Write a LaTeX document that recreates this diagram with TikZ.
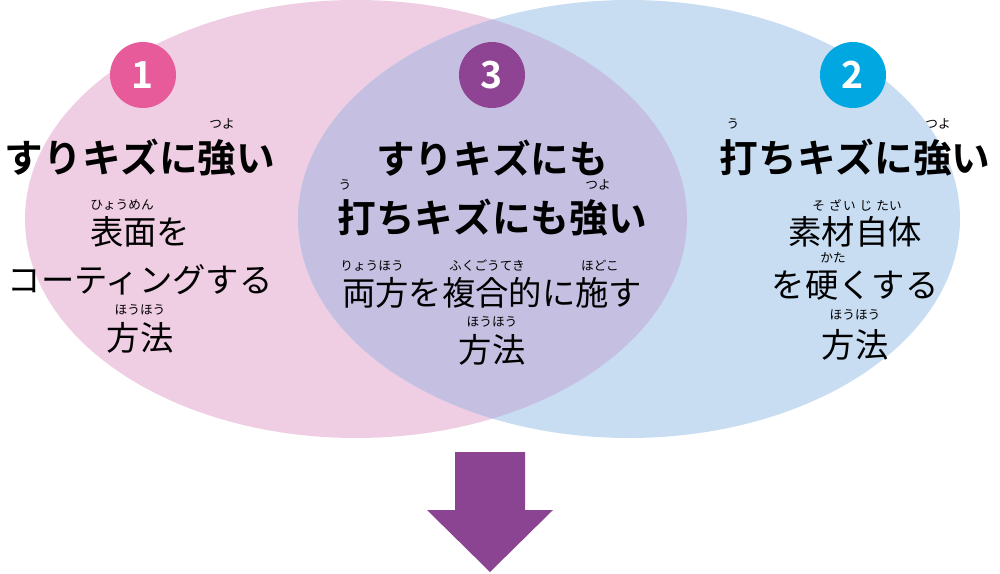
\documentclass[tikz,border=0pt]{standalone}
\usepackage{fontspec}
\newfontfamily\jp{Noto Sans CJK JP}
\newfontfamily\jpb{Noto Sans CJK JP Bold}
\setmainfont{Noto Sans CJK JP}
\definecolor{pinkE}{HTML}{EFCDE3}
\definecolor{blueE}{HTML}{C8DDF2}
\definecolor{mixE}{HTML}{C5C0E2}
\definecolor{pnum}{HTML}{E85B9A}
\definecolor{vnum}{HTML}{8E4493}
\definecolor{cnum}{HTML}{00A7E1}
\definecolor{arr}{HTML}{8B4491}
\begin{document}
\begin{tikzpicture}[x=0.75pt,y=-0.75pt,
 head/.style={font=\jpb\fontsize{29}{30}\selectfont,inner sep=0},
 body/.style={font=\jp\fontsize{25}{26}\selectfont,inner sep=0},
 ruby/.style={font=\jp\fontsize{9.5}{10}\selectfont,inner sep=0},
 num/.style={circle,minimum size=49.5pt,inner sep=0,text=white,font=\jpb\fontsize{28}{28}\selectfont}]
\useasboundingbox (0,0) rectangle (1000,574);
\fill[pinkE] (356,219) ellipse [x radius=331,y radius=219];
\fill[blueE] (629,219) ellipse [x radius=331,y radius=219];
\begin{scope}
\clip (356,219) ellipse [x radius=331,y radius=219];
\fill[mixE] (629,219) ellipse [x radius=331,y radius=219];
\end{scope}
\node[num,fill=pnum] (n1) at (143,75) {1};
\node[num,fill=vnum] (n3) at (492,75) {3};
\node[num,fill=cnum] (n2) at (853,75) {2};
% left
\node[head] (l1) at (140,158) {すりキズに強い};
\node[ruby] at (222,124) {つよ};
\node[body] (l2) at (140,232) {表面を};
\node[ruby] at (122,205) {ひょうめん};
\node[body] (l3) at (140,280) {コーティングする};
\node[ruby] at (140,310) {ほうほう};
\node[body] (l4) at (140,338) {方法};
% middle
\node[head] (m1) at (492,158) {すりキズにも};
\node[head] (m2) at (492,218) {打ちキズにも強い};
\node[ruby] at (345,185) {う};
\node[ruby] at (598,185) {つよ};
\node[body] (m3) at (492,293) {両方を複合的に施す};
\node[ruby] at (372,266) {りょうほう};
\node[ruby] at (487,266) {ふくごうてき};
\node[ruby] at (600,266) {ほどこ};
\node[ruby] at (492,322) {ほうほう};
\node[body] (m4) at (492,350) {方法};
% right
\node[head] (r1) at (855,158) {打ちキズに強い};
\node[ruby] at (733,124) {う};
\node[ruby] at (938,124) {つよ};
\node[body] (r2) at (855,232) {素材自体};
\node[ruby] at (857,205) {そ\hspace{3pt}ざ\hspace{1pt}い\hspace{3pt}じ\hspace{3pt}たい};
\node[body] (r3) at (855,285) {を硬くする};
\node[ruby] at (833,258) {かた};
\node[ruby] at (855,315) {ほうほう};
\node[body] (r4) at (855,345) {方法};
% arrow
\fill[arr] (455,452) -- (525,452) -- (525,510) -- (553,510) -- (490,572) -- (427,510) -- (455,510) -- cycle;
\end{tikzpicture}
\end{document}
